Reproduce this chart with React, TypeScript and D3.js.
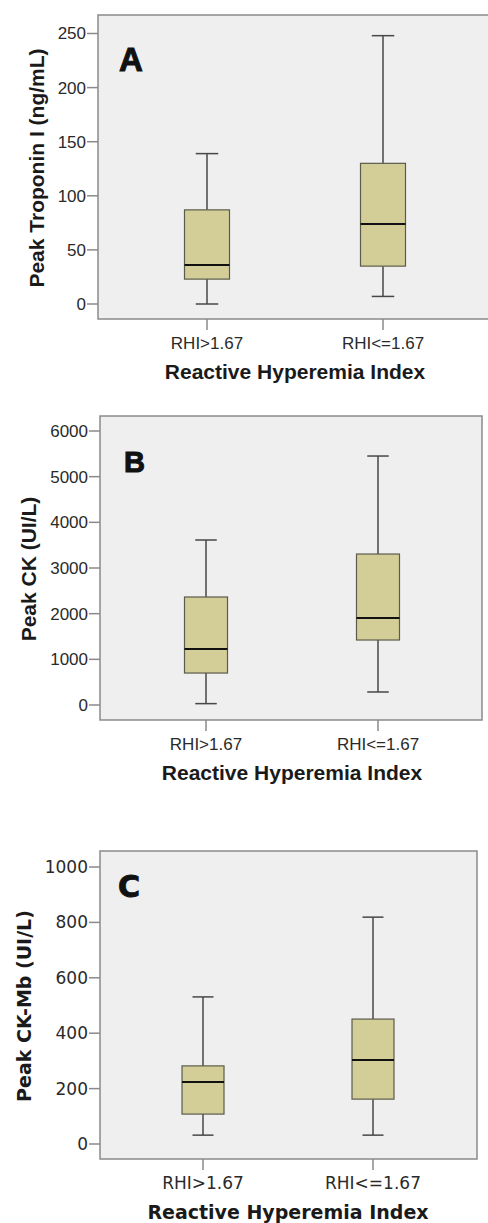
import React from "react";
import * as d3 from "d3";

// Groups compared on every panel
const groups = ["RHI>1.67", "RHI<=1.67"];

// Five-number summaries per group: [min, q1, median, q3, max]
const troponinSummary = [
  [0, 23, 36, 87, 139],
  [7, 35, 74, 130, 248],
];
const ckSummary = [
  [30, 700, 1226, 2365, 3613],
  [285, 1423, 1905, 3306, 5452],
];
const ckMbSummary = [
  [32, 108, 224, 282, 531],
  [32, 162, 303, 451, 819],
];

// Axis ticks
const troponinTicks = [0, 50, 100, 150, 200, 250];
const ckTicks = [0, 1000, 2000, 3000, 4000, 5000, 6000];
const ckMbTicks = [0, 200, 400, 600, 800, 1000];

const xTitle = "Reactive Hyperemia Index";

type Panel = {
  letter: string;
  yTitle: string;
  data: number[][];
  ticks: number[];
  domain: [number, number];
  frame: { x0: number; x1: number; y0: number; y1: number };
  yRange: [number, number];
  centers: [number, number];
  boxW: number;
  font: string;
  tickSize: number;
  titleSize: number;
  letterSize: number;
  letterPos: [number, number];
  yTitleX: number;
  xTitleFont: string;
};

const sansA = "'Liberation Sans', Arial, sans-serif";
const sansC = "'DejaVu Sans', Verdana, sans-serif";

const panels: Panel[] = [
  {
    letter: "A",
    yTitle: "Peak Troponin I (ng/mL)",
    data: troponinSummary,
    ticks: troponinTicks,
    domain: [0, 250],
    frame: { x0: 98, x1: 494, y0: 15, y1: 319 },
    yRange: [304, 33.5],
    centers: [207, 383],
    boxW: 45,
    font: sansA,
    tickSize: 17,
    titleSize: 21,
    letterSize: 33,
    letterPos: [119, 71],
    yTitleX: 37,
    xTitleFont: sansA,
  },
  {
    letter: "B",
    yTitle: "Peak CK (UI/L)",
    data: ckSummary,
    ticks: ckTicks,
    domain: [0, 6000],
    frame: { x0: 100, x1: 482, y0: 416, y1: 720 },
    yRange: [705, 431],
    centers: [206, 378],
    boxW: 43,
    font: sansA,
    tickSize: 17,
    titleSize: 21,
    letterSize: 29,
    letterPos: [124, 472],
    yTitleX: 29,
    xTitleFont: sansA,
  },
  {
    letter: "C",
    yTitle: "Peak CK-Mb (UI/L)",
    data: ckMbSummary,
    ticks: ckMbTicks,
    domain: [0, 1000],
    frame: { x0: 100, x1: 477, y0: 851, y1: 1159 },
    yRange: [1144, 867],
    centers: [203, 373],
    boxW: 42,
    font: sansC,
    tickSize: 17,
    titleSize: 19,
    letterSize: 30,
    letterPos: [118, 897],
    yTitleX: 24,
    xTitleFont: sansC,
  },
];

const PLOT_BG = "#efefef";
const FRAME = "#8a8a8a";
const BOX_FILL = "#d3ce98";
const BOX_STROKE = "#5b5b4c";
const WHISKER = "#474747";
const TEXT = "#2a2a2a";

function BoxPanel({ p }: { p: Panel }) {
  const y = d3.scaleLinear().domain(p.domain).range(p.yRange);
  const x = d3.scalePoint<string>().domain(groups).range(p.centers);
  const { x0, x1, y0, y1 } = p.frame;
  const midX = (p.centers[0] + p.centers[1]) / 2;
  return (
    <g>
      <rect x={x0} y={y0} width={x1 - x0} height={y1 - y0} fill={PLOT_BG} stroke={FRAME} strokeWidth={1.5} />
      {/* y axis ticks */}
      {p.ticks.map((t) => (
        <g key={t}>
          <line x1={x0 - 11} x2={x0} y1={y(t)} y2={y(t)} stroke={FRAME} strokeWidth={1.5} />
          <text
            x={x0 - 12}
            y={y(t)}
            dy="0.35em"
            textAnchor="end"
            fontFamily={p.font}
            fontSize={p.tickSize}
            fill={TEXT}
          >
            {t}
          </text>
        </g>
      ))}
      {/* x axis ticks and category labels */}
      {groups.map((g) => (
        <g key={g}>
          <line x1={x(g)} x2={x(g)} y1={y1} y2={y1 + 11} stroke={FRAME} strokeWidth={1.5} />
          <text
            x={x(g)}
            y={y1 + 24}
            dy="0.35em"
            textAnchor="middle"
            fontFamily={p.font}
            fontSize={p.tickSize}
            fill={TEXT}
          >
            {g}
          </text>
        </g>
      ))}
      {/* boxes */}
      {groups.map((g, i) => {
        const [mn, q1, med, q3, mx] = p.data[i];
        const cx = x(g) as number;
        const hw = p.boxW / 2;
        const cw = p.boxW / 4;
        return (
          <g key={g}>
            <line x1={cx} x2={cx} y1={y(q3)} y2={y(mx)} stroke={WHISKER} strokeWidth={1.5} />
            <line x1={cx} x2={cx} y1={y(q1)} y2={y(mn)} stroke={WHISKER} strokeWidth={1.5} />
            <line x1={cx - cw} x2={cx + cw} y1={y(mx)} y2={y(mx)} stroke={WHISKER} strokeWidth={1.5} />
            <line x1={cx - cw} x2={cx + cw} y1={y(mn)} y2={y(mn)} stroke={WHISKER} strokeWidth={1.5} />
            <rect
              x={cx - hw}
              y={y(q3)}
              width={p.boxW}
              height={y(q1) - y(q3)}
              fill={BOX_FILL}
              stroke={BOX_STROKE}
              strokeWidth={1.2}
            />
            <line x1={cx - hw} x2={cx + hw} y1={y(med)} y2={y(med)} stroke="#111" strokeWidth={2} />
          </g>
        );
      })}
      {/* panel letter */}
      <text
        x={p.letterPos[0]}
        y={p.letterPos[1]}
        fontFamily={p.font}
        fontWeight="bold"
        fontSize={p.letterSize}
        fill="#111"
        stroke="#111"
        strokeWidth={1}
      >
        {p.letter}
      </text>
      {/* axis titles */}
      <text
        x={midX}
        y={y1 + 53}
        dy="0.35em"
        textAnchor="middle"
        fontFamily={p.xTitleFont}
        fontWeight="bold"
        fontSize={p.titleSize}
        fill="#1a1a1a"
      >
        {xTitle}
      </text>
      <text
        transform={`translate(${p.yTitleX},${(y0 + y1) / 2 + 1}) rotate(-90)`}
        dy="0.35em"
        textAnchor="middle"
        fontFamily={p.font}
        fontWeight="bold"
        fontSize={p.titleSize}
        fill="#1a1a1a"
      >
        {p.yTitle}
      </text>
    </g>
  );
}

export default function App() {
  return (
    <svg
      width={488}
      height={1223}
      style={{ position: "absolute", left: 0, top: 0, background: "#fff" }}
    >
      {panels.map((p) => (
        <BoxPanel key={p.letter} p={p} />
      ))}
    </svg>
  );
}
